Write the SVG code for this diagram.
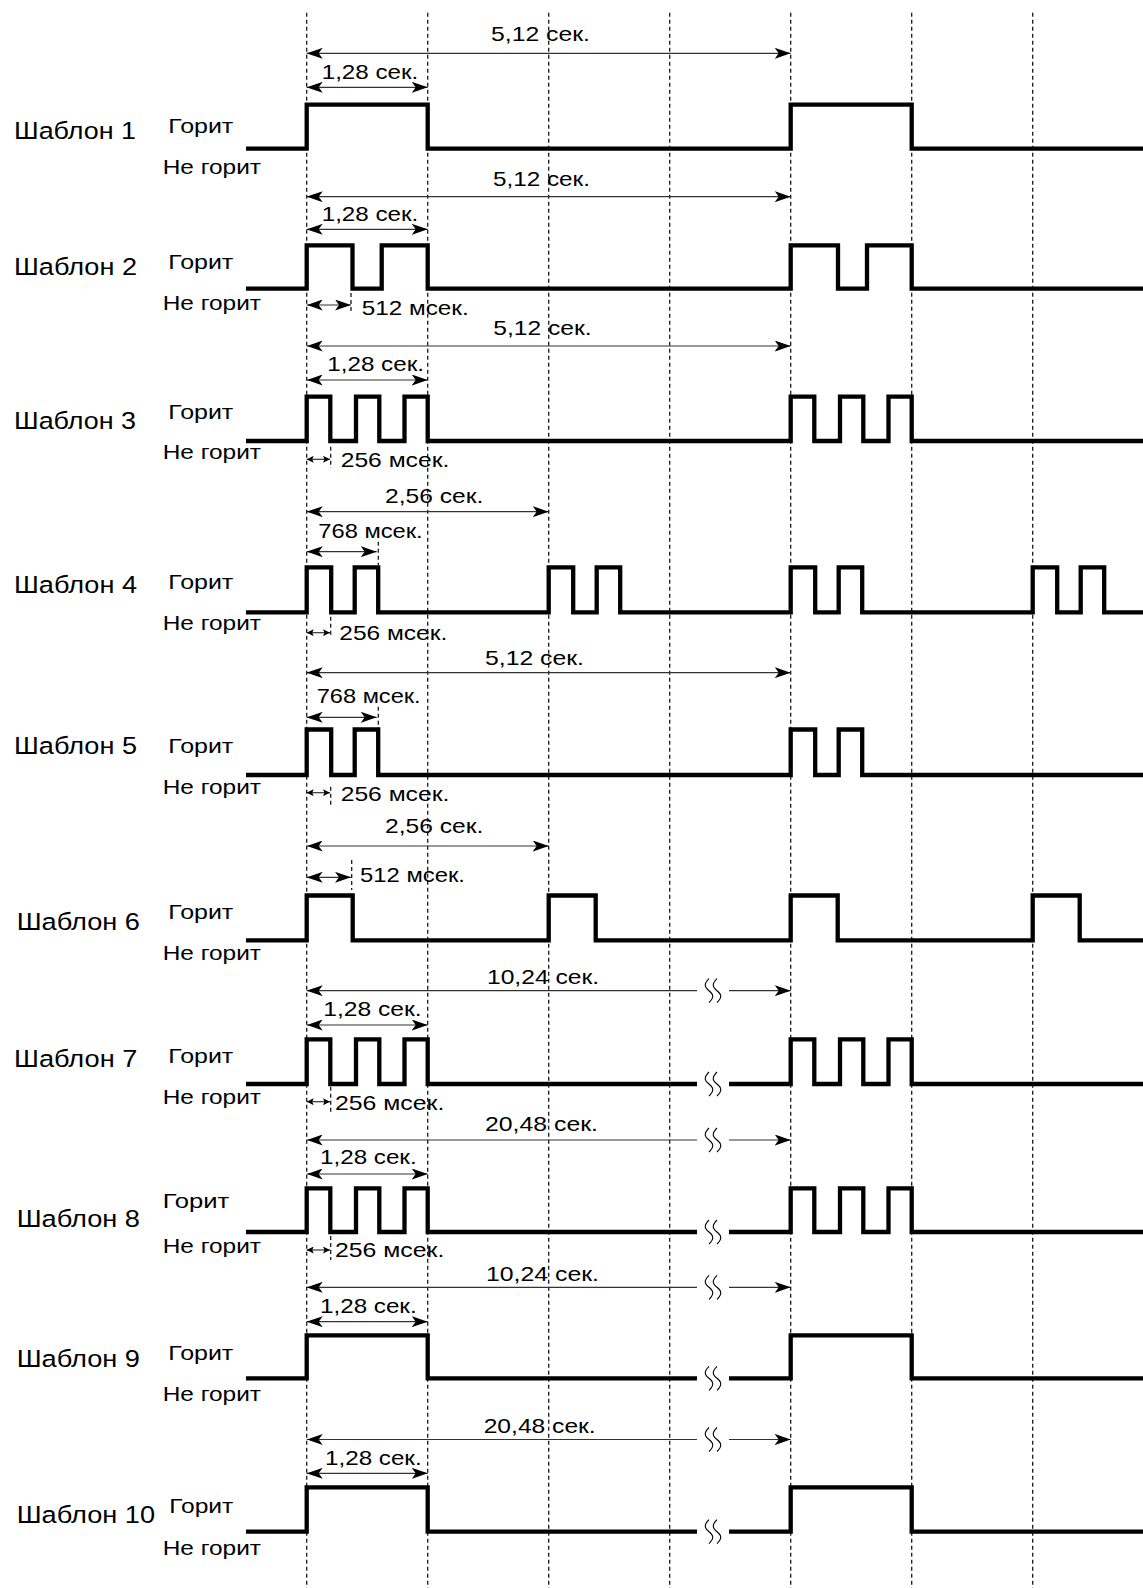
<svg xmlns="http://www.w3.org/2000/svg" width="1143" height="1588" viewBox="0 0 1143 1588">
<defs>
<style>
.grid{stroke:#1a1a1a;stroke-width:1.3;stroke-dasharray:4 3;fill:none}
.sig{stroke:#000;stroke-width:4.3;fill:none;stroke-linejoin:miter;stroke-linecap:butt}
.dim{stroke:#333;stroke-width:1.2;fill:none}
.big{marker-start:url(#ah);marker-end:url(#ah)}
.sm{marker-start:url(#as);marker-end:url(#as)}
.endonly{marker-end:url(#ah)}
.startonly{marker-start:url(#ah)}
.sq{stroke:#000;stroke-width:1.1;fill:none}
text{font-family:"Liberation Sans",Arial,Helvetica,sans-serif;fill:#000}
.name{font-size:24.5px}
.st{font-size:20.5px}
.lbl{font-size:21px}
</style>
<marker id="ah" markerUnits="userSpaceOnUse" markerWidth="16" markerHeight="11" refX="16" refY="5.5" orient="auto-start-reverse" viewBox="0 0 16 11">
<path d="M0,0 L16,5.5 L0,11 L4,5.5 z" fill="#000"/>
</marker>
<marker id="as" markerUnits="userSpaceOnUse" markerWidth="7" markerHeight="7" refX="7" refY="3.5" orient="auto-start-reverse" viewBox="0 0 7 7">
<path d="M0,0 L7,3.5 L0,7 L1.5,3.5 z" fill="#000"/>
</marker>
<path id="squig" class="sq" d="M-4,-12 C-9,-7 -9,-4 -4,0 C1,4 1,7 -4,12 M4,-12 C-1,-7 -1,-4 4,0 C9,4 9,7 4,12"/>
</defs>
<rect width="1143" height="1588" fill="#fff"/>

<g id="grid">
<path class="grid" d="M306.7 12.7V1588M427.7 12.7V1588M548.7 12.7V1588M669.7 12.7V1588M790.7 12.7V1588M911.7 12.7V1588M1032.7 12.7V1588"/>
<path class="grid" d="M351 293V312M330.7 446.7V468M378.3 541.7V565M330.7 616.7V636.7M378.3 706.7V728M330.7 786.7V806.7M351.7 860V890M330.7 1086.7V1111.7M330.7 1236V1260"/>
</g>

<g id="connectors">
<line class="dim big" x1="306.7" y1="53.3" x2="790.7" y2="53.3"/>
<line class="dim big" x1="306.7" y1="87.3" x2="427.7" y2="87.3"/>
<line class="dim big" x1="306.7" y1="196.7" x2="790.7" y2="196.7"/>
<line class="dim big" x1="306.7" y1="229.3" x2="427.7" y2="229.3"/>
<line class="dim big" x1="306.7" y1="305" x2="351" y2="305"/>
<line class="dim big" x1="306.7" y1="346" x2="790.7" y2="346"/>
<line class="dim big" x1="306.7" y1="380" x2="427.7" y2="380"/>
<line class="dim sm" x1="306.7" y1="459.3" x2="330" y2="459.3"/>
<line class="dim big" x1="306.7" y1="511.7" x2="548.7" y2="511.7"/>
<line class="dim big" x1="306.7" y1="551.7" x2="376.7" y2="551.7"/>
<line class="dim sm" x1="306.7" y1="632.7" x2="330" y2="632.7"/>
<line class="dim big" x1="306.7" y1="672.7" x2="790.7" y2="672.7"/>
<line class="dim big" x1="306.7" y1="717.3" x2="376.7" y2="717.3"/>
<line class="dim sm" x1="306.7" y1="792.7" x2="330" y2="792.7"/>
<line class="dim big" x1="306.7" y1="846" x2="548.7" y2="846"/>
<line class="dim big" x1="306.7" y1="877.3" x2="351" y2="877.3"/>
<line class="dim startonly" x1="306.7" y1="990.7" x2="697" y2="990.7"/>
<line class="dim endonly" x1="729" y1="990.7" x2="790.7" y2="990.7"/>
<use href="#squig" x="713" y="990.7"/>
<line class="dim big" x1="306.7" y1="1025" x2="427.7" y2="1025"/>
<line class="dim sm" x1="306.7" y1="1101.7" x2="330" y2="1101.7"/>
<line class="dim startonly" x1="306.7" y1="1140" x2="697" y2="1140"/>
<line class="dim endonly" x1="729" y1="1140" x2="790.7" y2="1140"/>
<use href="#squig" x="713" y="1140"/>
<line class="dim big" x1="306.7" y1="1174" x2="427.7" y2="1174"/>
<line class="dim sm" x1="306.7" y1="1250" x2="330" y2="1250"/>
<line class="dim startonly" x1="306.7" y1="1287.3" x2="697" y2="1287.3"/>
<line class="dim endonly" x1="729" y1="1287.3" x2="790.7" y2="1287.3"/>
<use href="#squig" x="713" y="1287.3"/>
<line class="dim big" x1="306.7" y1="1321.7" x2="427.7" y2="1321.7"/>
<line class="dim startonly" x1="306.7" y1="1439.5" x2="697" y2="1439.5"/>
<line class="dim endonly" x1="729" y1="1439.5" x2="790.7" y2="1439.5"/>
<use href="#squig" x="713" y="1439.5"/>
<line class="dim big" x1="306.7" y1="1473.3" x2="427.7" y2="1473.3"/>
</g>

<g id="pattern1">
<path class="sig" d="M246 148.7H306.7V104.7H427.7V148.7H790.7V104.7H911.7V148.7H1143"/>
<text class="name" x="14" y="139.3" textLength="122" lengthAdjust="spacingAndGlyphs">Шаблон 1</text>
<text class="st" x="168.3" y="133.3" textLength="65" lengthAdjust="spacingAndGlyphs">Горит</text>
<text class="st" x="162.7" y="174" textLength="98.3" lengthAdjust="spacingAndGlyphs">Не горит</text>
<text class="lbl" x="491" y="41" textLength="99" lengthAdjust="spacingAndGlyphs">5,12 сек.</text>
<text class="lbl" x="321.7" y="79" textLength="96.6" lengthAdjust="spacingAndGlyphs">1,28 сек.</text>
</g>

<g id="pattern2">
<path class="sig" d="M246 288.7H306.7V245.3H352.5V288.7H381.7V245.3H427.7V288.7H790.7V245.3H838V288.7H867V245.3H911.7V288.7H1143"/>
<text class="name" x="14" y="275.3" textLength="123" lengthAdjust="spacingAndGlyphs">Шаблон 2</text>
<text class="st" x="168.3" y="269.3" textLength="65" lengthAdjust="spacingAndGlyphs">Горит</text>
<text class="st" x="162.7" y="310" textLength="98.3" lengthAdjust="spacingAndGlyphs">Не горит</text>
<text class="lbl" x="493" y="186" textLength="97" lengthAdjust="spacingAndGlyphs">5,12 сек.</text>
<text class="lbl" x="321.7" y="221.3" textLength="96.6" lengthAdjust="spacingAndGlyphs">1,28 сек.</text>
<text class="lbl" x="361.7" y="315" textLength="107" lengthAdjust="spacingAndGlyphs">512 мсек.</text>
</g>

<g id="pattern3">
<path class="sig" d="M246 441H306.7V396.7H330.3V441H356V396.7H379.3V441H404.5V396.7H427.7V441H790.7V396.7H814.3V441H840V396.7H863.3V441H888.5V396.7H911.7V441H1143"/>
<text class="name" x="14" y="429" textLength="122" lengthAdjust="spacingAndGlyphs">Шаблон 3</text>
<text class="st" x="168.3" y="419" textLength="65" lengthAdjust="spacingAndGlyphs">Горит</text>
<text class="st" x="162.7" y="458.6" textLength="98.3" lengthAdjust="spacingAndGlyphs">Не горит</text>
<text class="lbl" x="493.3" y="335" textLength="98.4" lengthAdjust="spacingAndGlyphs">5,12 сек.</text>
<text class="lbl" x="327.3" y="370.7" textLength="96.7" lengthAdjust="spacingAndGlyphs">1,28 сек.</text>
<text class="lbl" x="340.7" y="466.7" textLength="108.6" lengthAdjust="spacingAndGlyphs">256 мсек.</text>
</g>

<g id="pattern4">
<path class="sig" d="M246 612.3H306.7V567.3H331.2V612.3H354.7V567.3H378.2V612.3H548.7V567.3H573.2V612.3H596.7V567.3H620.2V612.3H790.7V567.3H815.2V612.3H838.7V567.3H862.2V612.3H1032.7V567.3H1057.2V612.3H1080.7V567.3H1104.2V612.3H1143"/>
<text class="name" x="14" y="593" textLength="123" lengthAdjust="spacingAndGlyphs">Шаблон 4</text>
<text class="st" x="168.3" y="589.2" textLength="65" lengthAdjust="spacingAndGlyphs">Горит</text>
<text class="st" x="162.7" y="629.7" textLength="98.3" lengthAdjust="spacingAndGlyphs">Не горит</text>
<text class="lbl" x="385" y="503.3" textLength="98.3" lengthAdjust="spacingAndGlyphs">2,56 сек.</text>
<text class="lbl" x="318.3" y="538.3" textLength="104.4" lengthAdjust="spacingAndGlyphs">768 мсек.</text>
<text class="lbl" x="339.3" y="640" textLength="108" lengthAdjust="spacingAndGlyphs">256 мсек.</text>
</g>

<g id="pattern5">
<path class="sig" d="M246 775H306.7V729.5H331.2V775H354.7V729.5H378.2V775H790.7V729.5H815.2V775H838.7V729.5H862.2V775H1143"/>
<text class="name" x="14" y="754.3" textLength="123" lengthAdjust="spacingAndGlyphs">Шаблон 5</text>
<text class="st" x="168.3" y="752.7" textLength="65" lengthAdjust="spacingAndGlyphs">Горит</text>
<text class="st" x="162.7" y="794" textLength="98.3" lengthAdjust="spacingAndGlyphs">Не горит</text>
<text class="lbl" x="485" y="665" textLength="99" lengthAdjust="spacingAndGlyphs">5,12 сек.</text>
<text class="lbl" x="316.7" y="702.7" textLength="104" lengthAdjust="spacingAndGlyphs">768 мсек.</text>
<text class="lbl" x="340.7" y="801" textLength="108.6" lengthAdjust="spacingAndGlyphs">256 мсек.</text>
</g>

<g id="pattern6">
<path class="sig" d="M246 940.3H306.7V895.5H352.7V940.3H548.7V895.5H595.7V940.3H790.7V895.5H837.7V940.3H1032.7V895.5H1079.7V940.3H1143"/>
<text class="name" x="16.7" y="930" textLength="123.3" lengthAdjust="spacingAndGlyphs">Шаблон 6</text>
<text class="st" x="168.3" y="919.3" textLength="65" lengthAdjust="spacingAndGlyphs">Горит</text>
<text class="st" x="162.7" y="960" textLength="98.3" lengthAdjust="spacingAndGlyphs">Не горит</text>
<text class="lbl" x="385" y="832.7" textLength="98.3" lengthAdjust="spacingAndGlyphs">2,56 сек.</text>
<text class="lbl" x="360" y="882.3" textLength="105" lengthAdjust="spacingAndGlyphs">512 мсек.</text>
</g>

<g id="pattern7">
<path class="sig" d="M246 1084H306.7V1039.3H330.3V1084H356V1039.3H379.3V1084H404.5V1039.3H427.7V1084H697M729 1084H790.7V1039.3H814.3V1084H840V1039.3H863.3V1084H888.5V1039.3H911.7V1084H1143"/>
<use href="#squig" x="713" y="1084"/>
<text class="name" x="14" y="1067.3" textLength="123.3" lengthAdjust="spacingAndGlyphs">Шаблон 7</text>
<text class="st" x="168.3" y="1062.7" textLength="65" lengthAdjust="spacingAndGlyphs">Горит</text>
<text class="st" x="162.7" y="1104" textLength="98.3" lengthAdjust="spacingAndGlyphs">Не горит</text>
<text class="lbl" x="487" y="984" textLength="112" lengthAdjust="spacingAndGlyphs">10,24 сек.</text>
<text class="lbl" x="323.3" y="1015.7" textLength="98.4" lengthAdjust="spacingAndGlyphs">1,28 сек.</text>
<text class="lbl" x="335" y="1110" textLength="109.3" lengthAdjust="spacingAndGlyphs">256 мсек.</text>
</g>

<g id="pattern8">
<path class="sig" d="M246 1232H306.7V1188.3H330.3V1232H356V1188.3H379.3V1232H404.5V1188.3H427.7V1232H697M729 1232H790.7V1188.3H814.3V1232H840V1188.3H863.3V1232H888.5V1188.3H911.7V1232H1143"/>
<use href="#squig" x="713" y="1232"/>
<text class="name" x="16.7" y="1226.7" textLength="123.3" lengthAdjust="spacingAndGlyphs">Шаблон 8</text>
<text class="st" x="162.7" y="1208.3" textLength="66.6" lengthAdjust="spacingAndGlyphs">Горит</text>
<text class="st" x="162.7" y="1252.7" textLength="98.3" lengthAdjust="spacingAndGlyphs">Не горит</text>
<text class="lbl" x="485" y="1131.4" textLength="113" lengthAdjust="spacingAndGlyphs">20,48 сек.</text>
<text class="lbl" x="320" y="1164.3" textLength="96.7" lengthAdjust="spacingAndGlyphs">1,28 сек.</text>
<text class="lbl" x="335" y="1257.3" textLength="109.3" lengthAdjust="spacingAndGlyphs">256 мсек.</text>
</g>

<g id="pattern9">
<path class="sig" d="M246 1378.3H306.7V1335.3H427.7V1378.3H697M729 1378.3H790.7V1335.3H911.7V1378.3H1143"/>
<use href="#squig" x="713" y="1378.3"/>
<text class="name" x="16.7" y="1367.3" textLength="123.3" lengthAdjust="spacingAndGlyphs">Шаблон 9</text>
<text class="st" x="168.3" y="1360" textLength="65" lengthAdjust="spacingAndGlyphs">Горит</text>
<text class="st" x="162.7" y="1401" textLength="98.3" lengthAdjust="spacingAndGlyphs">Не горит</text>
<text class="lbl" x="486" y="1280.7" textLength="113" lengthAdjust="spacingAndGlyphs">10,24 сек.</text>
<text class="lbl" x="320" y="1312.7" textLength="96.7" lengthAdjust="spacingAndGlyphs">1,28 сек.</text>
</g>

<g id="pattern10">
<path class="sig" d="M246 1531.7H306.7V1487.3H427.7V1531.7H697M729 1531.7H790.7V1487.3H911.7V1531.7H1143"/>
<use href="#squig" x="713" y="1531.7"/>
<text class="name" x="16.7" y="1523.3" textLength="138.3" lengthAdjust="spacingAndGlyphs">Шаблон 10</text>
<text class="st" x="169.3" y="1512.7" textLength="64" lengthAdjust="spacingAndGlyphs">Горит</text>
<text class="st" x="162.7" y="1555" textLength="98.3" lengthAdjust="spacingAndGlyphs">Не горит</text>
<text class="lbl" x="483.7" y="1432.7" textLength="112" lengthAdjust="spacingAndGlyphs">20,48 сек.</text>
<text class="lbl" x="325" y="1465" textLength="96.7" lengthAdjust="spacingAndGlyphs">1,28 сек.</text>
</g>
</svg>
